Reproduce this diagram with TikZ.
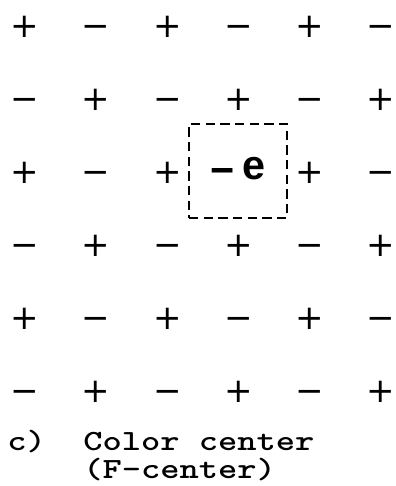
\documentclass[tikz,border=0pt]{standalone}
\usepackage{fontspec}
\usetikzlibrary{positioning}
\newfontfamily\signfont{DejaVu Sans}
\newfontfamily\efont{Liberation Sans}
\newfontfamily\capfont{lmmonolt10-bold.otf}[FakeStretch=1.25]

\begin{document}
\begin{tikzpicture}[
    x=0.75pt, y=-0.75pt,
    ion/.style={inner ysep=0pt, inner xsep=-4pt, font=\signfont\fontsize{25.5}{25.5}\selectfont,
        text height=18.6pt, text depth=0pt},
    vacancy/.style={rectangle, draw, dash pattern=on 7pt off 4pt, line width=1.9pt,
        minimum width=73.5pt, minimum height=70.5pt, inner sep=0pt,
        font=\efont\bfseries\fontsize{31}{31}\selectfont},
    captext/.style={inner sep=0pt, anchor=base west, font=\capfont\fontsize{22}{21}\selectfont}
]
    \useasboundingbox (0,0) rectangle (396,486);

    % ionic lattice, one site left open for the vacancy
    \foreach \i in {0,...,5}
        \foreach \j in {0,...,5} {
            \pgfmathtruncatemacro\parity{mod(\i+\j,2)}
            \ifnum\i\j=23 \else
                \node[ion] (s-\i-\j) at ({25+71.2*\j},{25+73*\i}) {\ifnum\parity=0 +\else −\fi};
            \fi
        }

    % trapped electron
    \node[vacancy] (fc) at (238,171) {\raisebox{-4pt}{−}\,e};

    \node[captext] (tag) at (7,450) {c)};
    \node[captext] (title) at (83,450) {Color center};
    \node[captext] (sub) at ([yshift=-21pt]title.base west) {(F-center)};
\end{tikzpicture}
\end{document}
